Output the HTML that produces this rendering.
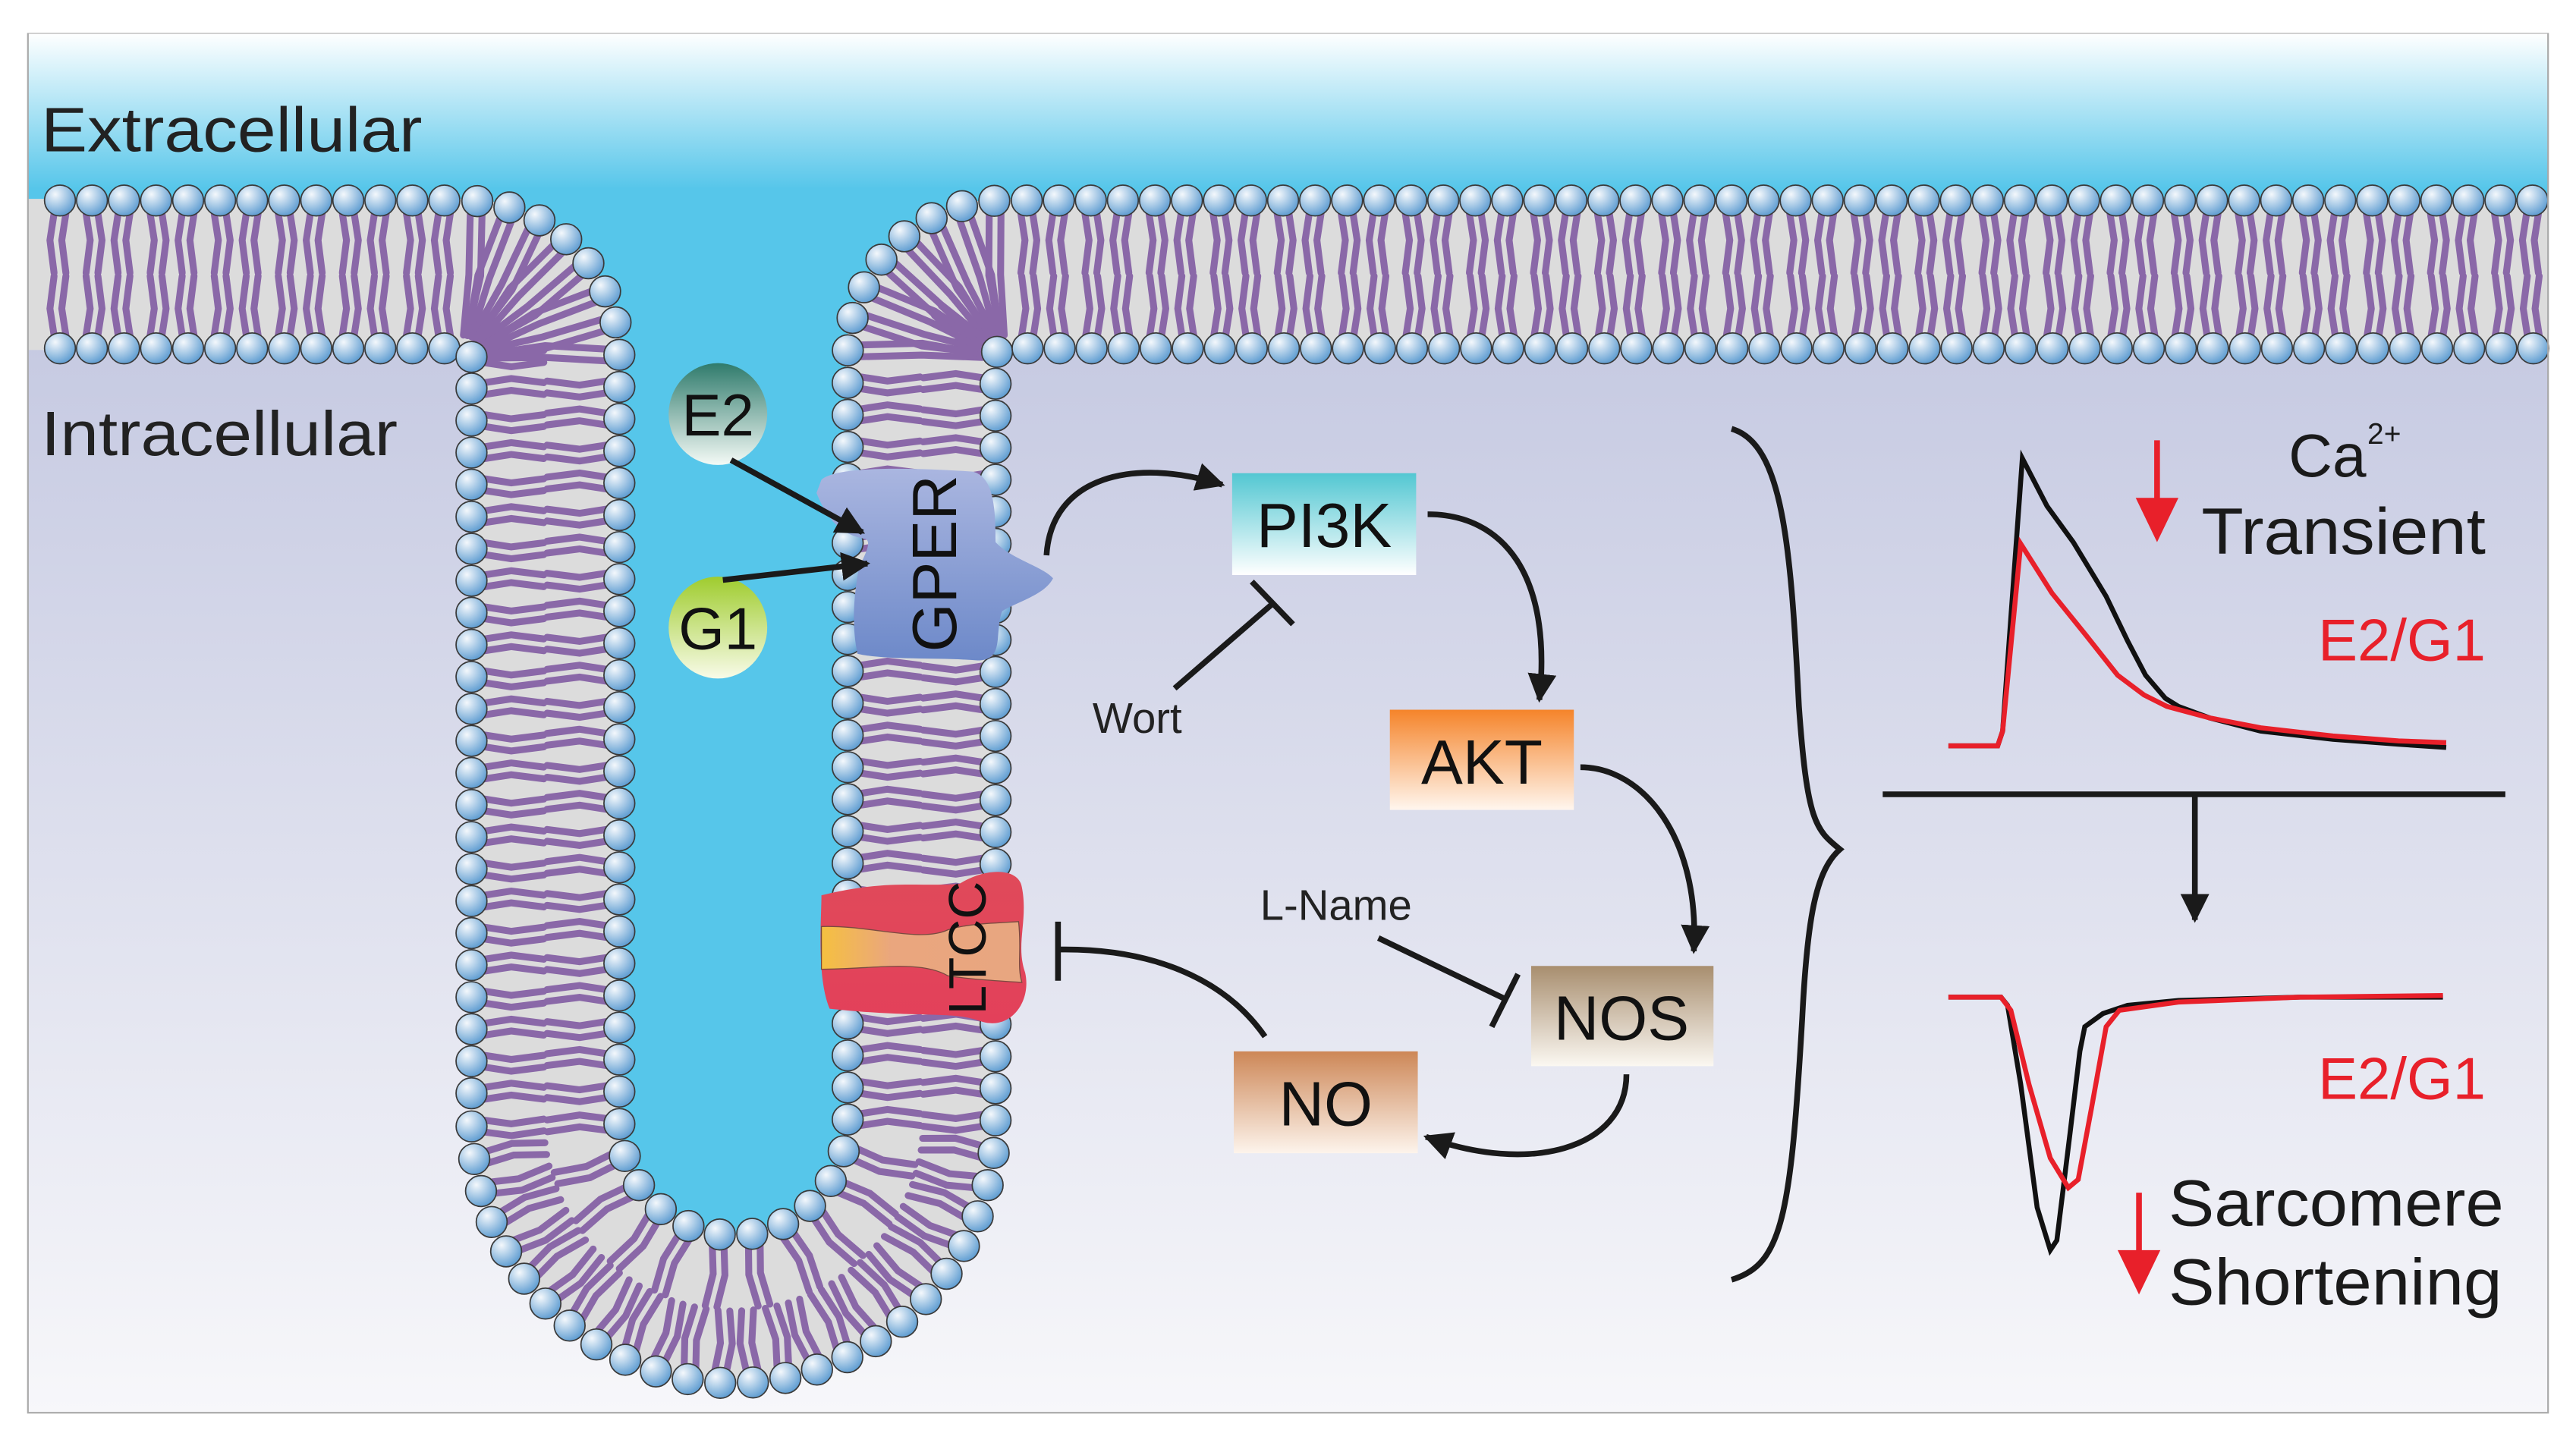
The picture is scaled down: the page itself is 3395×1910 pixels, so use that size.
<!DOCTYPE html>
<html><head><meta charset="utf-8">
<style>
html,body{margin:0;padding:0;background:#fff;}
svg{display:block;}
text{font-family:"Liberation Sans",Arial,sans-serif;}
</style></head>
<body>
<svg id="s" width="3395" height="1910" viewBox="0 0 1568 882" xmlns="http://www.w3.org/2000/svg">
<defs>
<linearGradient id="gTop" gradientUnits="userSpaceOnUse" x1="0" y1="20" x2="0" y2="115">
<stop offset="0" stop-color="#ffffff"/><stop offset="1" stop-color="#56c6ea"/></linearGradient>
<linearGradient id="gIn" x1="0" y1="0" x2="0" y2="1">
<stop offset="0" stop-color="#b8bddb"/><stop offset="1" stop-color="#f7f7fa"/></linearGradient>
<radialGradient id="gHead" cx="0.35" cy="0.3" r="0.75">
<stop offset="0" stop-color="#f4f8fc"/><stop offset="1" stop-color="#5a9ad0"/></radialGradient>
<linearGradient id="gE2" x1="0" y1="0" x2="0" y2="1"><stop offset="0" stop-color="#2f7b6c"/><stop offset="1" stop-color="#f4faf6"/></linearGradient>
<linearGradient id="gG1" x1="0" y1="0" x2="0" y2="1"><stop offset="0" stop-color="#9fcc2e"/><stop offset="1" stop-color="#f8fbe8"/></linearGradient>
<linearGradient id="gGP" x1="0" y1="0" x2="0" y2="1"><stop offset="0" stop-color="#aab6e0"/><stop offset="1" stop-color="#6d89c9"/></linearGradient>
<linearGradient id="gPI" x1="0" y1="0" x2="0" y2="1"><stop offset="0" stop-color="#52c7d2"/><stop offset="1" stop-color="#ffffff"/></linearGradient>
<linearGradient id="gAKT" x1="0" y1="0" x2="0" y2="1"><stop offset="0" stop-color="#f5842a"/><stop offset="1" stop-color="#fff6ee"/></linearGradient>
<linearGradient id="gNOS" x1="0" y1="0" x2="0" y2="1"><stop offset="0" stop-color="#a88e6f"/><stop offset="1" stop-color="#fbf8f2"/></linearGradient>
<linearGradient id="gNO" x1="0" y1="0" x2="0" y2="1"><stop offset="0" stop-color="#cd8757"/><stop offset="1" stop-color="#fdf4ec"/></linearGradient>
<linearGradient id="gLT" x1="0" y1="0" x2="0" y2="1"><stop offset="0" stop-color="#e04a5a"/><stop offset="1" stop-color="#e3405a"/></linearGradient>
<linearGradient id="gLTm" x1="0" y1="0" x2="1" y2="0"><stop offset="0" stop-color="#f5c040"/><stop offset="0.35" stop-color="#eaa67e"/><stop offset="1" stop-color="#e8a680"/></linearGradient>
<marker id="ah" viewBox="0 0 10 10" refX="9" refY="5" markerWidth="5" markerHeight="5" orient="auto" markerUnits="strokeWidth"><path d="M0,0 L10,5 L0,10 Z" fill="#1a1a1a"/></marker>
</defs>

<rect x="0" y="0" width="1568" height="882" fill="#fff"/>
<rect x="17" y="20" width="1534" height="840" fill="url(#gIn)"/>
<path id="cyan" fill="url(#gTop)" d="M17,20 L1551,20 L1551,167 L611,167 A50,50 0 0 0 561,217 L561,682.5 A114.5,114.5 0 0 1 332,682.5 L332,217 A50,50 0 0 0 282,167 L17,167 Z"/>
<path d="M17,167 L282,167 A50,50 0 0 1 332,217 L332,682.5 A114.5,114.5 0 0 0 561,682.5 L561,217 A50,50 0 0 1 611,167 L1551,167" fill="none" stroke="#dcdcdc" stroke-width="92"/>
<g id="tails" stroke="#8a68a8" stroke-width="4.2" fill="none" stroke-linecap="round"></g>
<g id="heads"></g>
<rect x="17" y="20" width="1534" height="840" fill="none" stroke="#a9a9a9" stroke-width="1"/>
<rect x="0" y="0" width="1568" height="20" fill="#fff"/>
<rect x="0" y="861" width="1568" height="21" fill="#fff"/>

<text x="25" y="92" font-size="38" fill="#222" textLength="232" lengthAdjust="spacingAndGlyphs">Extracellular</text>
<text x="25" y="277" font-size="38" fill="#222" textLength="217" lengthAdjust="spacingAndGlyphs">Intracellular</text>

<ellipse cx="437" cy="252" rx="30" ry="31" fill="url(#gE2)"/>
<text x="437" y="265" font-size="36" text-anchor="middle" fill="#111">E2</text>
<ellipse cx="437" cy="382" rx="30" ry="31" fill="url(#gG1)"/>
<text x="437" y="395" font-size="36" text-anchor="middle" fill="#111">G1</text>

<path d="M500,292 C510,283 560,285 592,287 C605,290 606,310 606,330 C615,340 635,345 641,352 C636,362 620,366 610,372 C605,385 612,402 595,402 C570,400 540,402 522,398 C518,380 520,360 523,345 C528,335 530,330 527,328 C515,326 505,320 497,300 Z" fill="url(#gGP)"/>
<text transform="translate(582,343) rotate(-90)" font-size="38" text-anchor="middle" fill="#111">GPER</text>
<line x1="445" y1="280" x2="525" y2="324" stroke="#1a1a1a" stroke-width="3.5" marker-end="url(#ah)"/>
<line x1="440" y1="353" x2="528" y2="343" stroke="#1a1a1a" stroke-width="3.5" marker-end="url(#ah)"/>

<path d="M500,545 C540,535 560,540 584,538 C600,528 620,528 622,540 C626,560 618,575 624,592 C628,610 615,627 598,622 C580,615 560,620 505,614 C497,595 500,560 500,545 Z" fill="url(#gLT)"/>
<path d="M500,564 C530,563 560,574 577,566 C590,562 605,562 620,561 C622,578 619,588 622,598 C605,597 590,596 577,594 C560,584 530,590 500,590 Z" fill="url(#gLTm)" stroke="#7a4a40" stroke-width="0.6"/>
<text transform="translate(600,577) rotate(-90)" font-size="32" text-anchor="middle" fill="#111">LTCC</text>

<rect x="750" y="288" width="112" height="62" fill="url(#gPI)"/>
<text x="806" y="333" font-size="38" text-anchor="middle" fill="#111">PI3K</text>
<rect x="846" y="432" width="112" height="61" fill="url(#gAKT)"/>
<text x="902" y="477" font-size="38" text-anchor="middle" fill="#111">AKT</text>
<rect x="932" y="588" width="111" height="61" fill="url(#gNOS)"/>
<text x="987" y="633" font-size="38" text-anchor="middle" fill="#111">NOS</text>
<rect x="751" y="640" width="112" height="62" fill="url(#gNO)"/>
<text x="807" y="685" font-size="38" text-anchor="middle" fill="#111">NO</text>

<g stroke="#1a1a1a" stroke-width="3.5" fill="none">
<path d="M637,338 C640,290 690,278 744,295" marker-end="url(#ah)"/>
<path d="M869,313 C915,313 945,350 937,426" marker-end="url(#ah)"/>
<path d="M962,467 C1000,467 1035,510 1031,579" marker-end="url(#ah)"/>
<path d="M990,654 C990,700 930,715 868,692" marker-end="url(#ah)"/>
<path d="M770,631 C745,595 700,577 644,578"/>
<line x1="644" y1="561" x2="644" y2="597"/>
<line x1="715" y1="419" x2="774" y2="368"/>
<line x1="762" y1="354" x2="787" y2="380"/>
<line x1="839" y1="571" x2="916" y2="608"/>
<line x1="924" y1="593" x2="908" y2="625"/>
</g>
<text x="665" y="446" font-size="26" fill="#222">Wort</text>
<text x="767" y="560" font-size="26" fill="#222">L-Name</text>

<path d="M1054,261 C1085,270 1090,330 1095,430 C1100,500 1105,505 1120,517 C1105,530 1100,560 1097,620 C1090,740 1085,770 1054,779" fill="none" stroke="#1a1a1a" stroke-width="3.5"/>

<polyline fill="none" stroke="#111" stroke-width="3" points="1186,454 1216,454 1219,445 1231,279 1246,308 1262,330 1282,363 1295,390 1306,411 1318,425 1326,430 1345,437 1376,445 1420,450 1460,453 1489,455"/>
<polyline fill="none" stroke="#e8202a" stroke-width="3" points="1186,454 1216,454 1219,445 1230,331 1249,361 1270,387 1289,411 1305,423 1319,430 1345,437 1376,443 1420,448 1460,451 1489,452"/>
<line x1="1146" y1="483.5" x2="1525" y2="483.5" stroke="#1a1a1a" stroke-width="3.5"/>
<line x1="1336" y1="484" x2="1336" y2="560" stroke="#1a1a1a" stroke-width="3.5" marker-end="url(#ah)"/>
<polyline fill="none" stroke="#111" stroke-width="3" points="1186,607 1218,607 1222,612 1230,660 1240,735 1248,761 1252,755 1260,690 1266,640 1269,625 1280,617 1295,612 1326,609 1400,607 1487,607"/>
<polyline fill="none" stroke="#e8202a" stroke-width="3" points="1186,607 1218,607 1224,615 1235,660 1248,705 1259,723 1265,718 1273,675 1282,625 1290,615 1326,610 1400,607 1487,606"/>

<line x1="1313" y1="268" x2="1313" y2="305" stroke="#e8202a" stroke-width="3.5"/>
<path d="M1300,303 L1326,303 L1313,330 Z" fill="#e8202a"/>
<line x1="1302" y1="726" x2="1302" y2="763" stroke="#e8202a" stroke-width="3.5"/>
<path d="M1289,761 L1315,761 L1302,788 Z" fill="#e8202a"/>

<text x="1393" y="290" font-size="37" fill="#1a1a1a">Ca</text>
<text x="1441" y="270" font-size="18" fill="#1a1a1a">2+</text>
<text x="1340" y="337" font-size="40" fill="#1a1a1a" textLength="173" lengthAdjust="spacingAndGlyphs">Transient</text>
<text x="1411" y="402" font-size="36" fill="#e8202a" textLength="102" lengthAdjust="spacingAndGlyphs">E2/G1</text>
<text x="1411" y="669" font-size="36" fill="#e8202a" textLength="102" lengthAdjust="spacingAndGlyphs">E2/G1</text>
<text x="1320" y="746" font-size="40" fill="#1a1a1a" textLength="204" lengthAdjust="spacingAndGlyphs">Sarcomere</text>
<text x="1320" y="794" font-size="40" fill="#1a1a1a" textLength="203" lengthAdjust="spacingAndGlyphs">Shortening</text>
</svg>
<script>
(function(){
var NS="http://www.w3.org/2000/svg";
var pts=[],cor=[];
function add(x,y,c){pts.push([x,y]);cor.push(c?1:0);}
var st=0.5,x,a,i,y;
for(x=17;x<282;x+=st)add(x,167,0);
for(a=-Math.PI/2;a<0;a+=0.01)add(282+50*Math.cos(a),217+50*Math.sin(a),1);
for(y=217;y<682.5;y+=st)add(332,y,0);
for(a=Math.PI;a>0;a-=0.005)add(446.5+114.5*Math.cos(a),682.5+114.5*Math.sin(a),0);
for(y=682.5;y>217;y-=st)add(561,y,0);
for(a=Math.PI;a<1.5*Math.PI;a+=0.01)add(611+50*Math.cos(a),217+50*Math.sin(a),1);
for(x=611;x<=1551;x+=st)add(x,167,0);
var N=[];
for(i=0;i<pts.length;i++){
 var p0=pts[Math.max(0,i-1)],p1=pts[Math.min(pts.length-1,i+1)];
 var tx=p1[0]-p0[0],ty=p1[1]-p0[1],l=Math.hypot(tx,ty)||1;tx/=l;ty/=l;
 N.push([ty,-tx,tx,ty]);
}
var tails=document.getElementById('tails'),heads=document.getElementById('heads');
function row(s,sp){
 var acc=0,prev=null,k=0;
 for(i=0;i<pts.length;i++){
  var n=N[i],q=[pts[i][0]+s*45*n[0],pts[i][1]+s*45*n[1]];
  if(prev){acc+=Math.hypot(q[0]-prev[0],q[1]-prev[1]);}
  prev=q;
  if(i===0||acc>=sp){
   acc=0;k++;
   if(q[0]<17+8||q[0]>1551-8) continue;
   var L=(s===1&&cor[i])?82:44;
   for(var t=-1;t<=1;t+=2){
    var ox=n[2]*3.6*t,oy=n[3]*3.6*t;
    var w=((k%2)?1:-1)*2.5;
    var a1=[q[0]-s*8*n[0]+ox,q[1]-s*8*n[1]+oy];
    var a2=[q[0]-s*(L*0.55)*n[0]+ox+n[2]*w,q[1]-s*(L*0.55)*n[1]+oy+n[3]*w];
    var a3=[q[0]-s*L*n[0]+ox*(L>50?0.3:1),q[1]-s*L*n[1]+oy*(L>50?0.3:1)];
    var pl=document.createElementNS(NS,'polyline');
    pl.setAttribute('points',a1.join(',')+' '+a2.join(',')+' '+a3.join(','));
    tails.appendChild(pl);
   }
   var c=document.createElementNS(NS,'circle');
   c.setAttribute('cx',q[0]);c.setAttribute('cy',q[1]);c.setAttribute('r',9.4);
   c.setAttribute('fill','url(#gHead)');c.setAttribute('stroke','#3a3a3a');c.setAttribute('stroke-width','0.8');
   heads.appendChild(c);
  }
 }
}
row(1,19.5);row(-1,19.5);
})();
</script>
</body></html>
